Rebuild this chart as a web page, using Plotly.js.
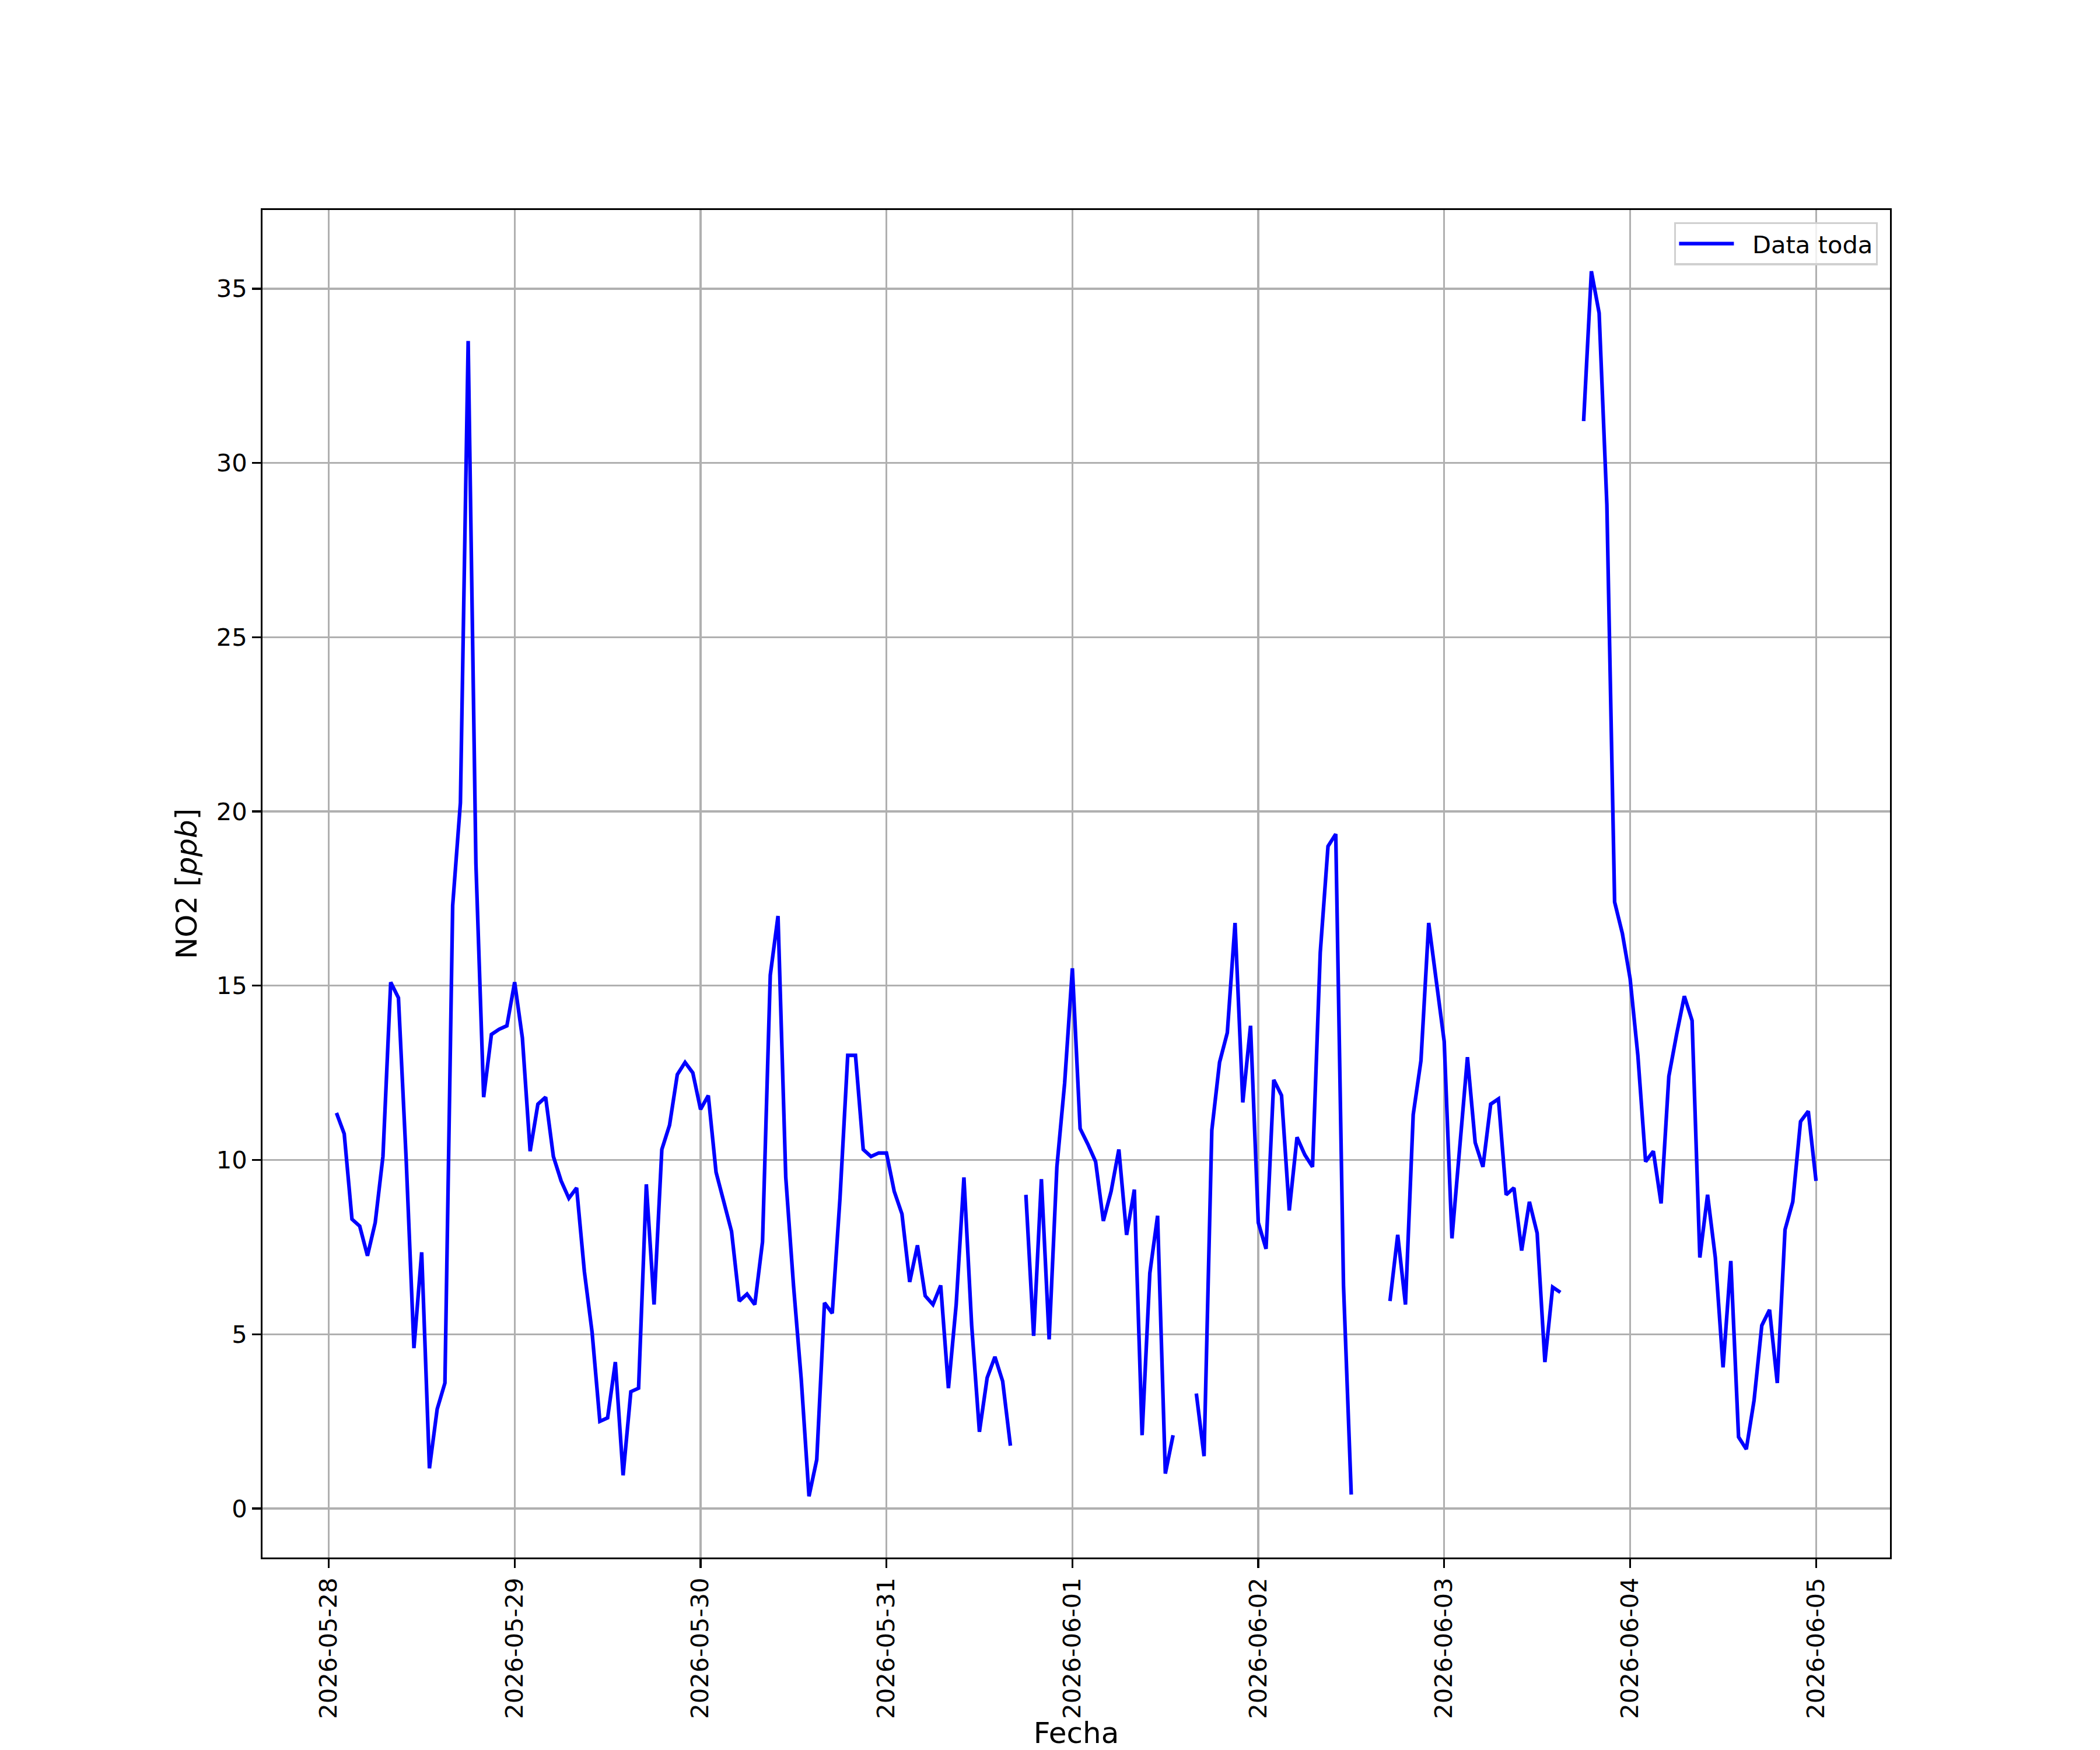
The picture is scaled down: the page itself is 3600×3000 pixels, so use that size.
<!DOCTYPE html>
<html>
<head>
<meta charset="utf-8">
<script src="https://cdn.plot.ly/plotly-3.0.1.min.js"></script>
<style>
  html, body { margin: 0; padding: 0; background: #ffffff; }
  #chart { width: 3600px; height: 3000px; }
</style>
</head>
<body>
<div id="chart"></div>
<script>
// Hourly NO2 values (ppb), index = hour of day 00..23; null = missing
const dayDates = ["2026-05-28","2026-05-29","2026-05-30","2026-05-31","2026-06-01","2026-06-02","2026-06-03","2026-06-04","2026-06-05"];
const day0528 = [null, 11.35, 10.75, 8.3, 8.1, 7.25, 8.2, 10.1, 15.1, 14.65, 10.0, 4.6, 7.35, 1.15, 2.85, 3.6, 17.3, 20.25, 33.5, 18.5, 11.8, 13.6, 13.75, 13.85];
const day0529 = [15.1, 13.5, 10.25, 11.6, 11.8, 10.1, 9.4, 8.9, 9.2, 6.8, 5.05, 2.5, 2.6, 4.2, 0.95, 3.35, 3.45, 9.3, 5.85, 10.3, 11.0, 12.45, 12.8, 12.5];
const day0530 = [11.45, 11.85, 9.65, 8.8, 7.95, 5.95, 6.15, 5.85, 7.65, 15.3, 17.0, 9.5, 6.4, 3.7, 0.35, 1.4, 5.9, 5.6, 8.9, 13.0, 13.0, 10.3, 10.1, 10.2];
const day0531 = [10.2, 9.1, 8.45, 6.5, 7.55, 6.1, 5.85, 6.4, 3.45, 5.85, 9.5, 5.25, 2.2, 3.75, 4.35, 3.65, 1.8, null, 9.0, 4.95, 9.45, 4.85, 9.8, 12.2];
const day0601 = [15.5, 10.9, 10.45, 9.95, 8.25, 9.1, 10.3, 7.85, 9.15, 2.1, 6.75, 8.4, 1.0, 2.1, null, null, 3.3, 1.5, 10.85, 12.8, 13.65, 16.8, 11.65, 13.85];
const day0602 = [8.2, 7.45, 12.3, 11.85, 8.55, 10.65, 10.15, 9.8, 15.95, 19.0, 19.35, 6.4, 0.4, null, null, null, null, 5.95, 7.85, 5.85, 11.3, 12.85, 16.8, 15.1];
const day0603 = [13.4, 7.75, 10.45, 12.95, 10.5, 9.8, 11.6, 11.75, 9.0, 9.2, 7.4, 8.8, 7.9, 4.2, 6.35, 6.2, null, null, 31.2, 35.5, 34.3, 28.8, 17.4, 16.5];
const day0604 = [15.2, 13.0, 9.95, 10.25, 8.75, 12.4, 13.6, 14.7, 14.0, 7.2, 9.0, 7.2, 4.05, 7.1, 2.05, 1.7, 3.1, 5.25, 5.7, 3.6, 8.0, 8.8, 11.1, 11.4];
const day0605 = [9.4];
const dayValues = [day0528, day0529, day0530, day0531, day0601, day0602, day0603, day0604, day0605];

const seriesName = "Data toda";
const xTitle = "Fecha";
const yTitle = "NO2 [<i>ppb</i>]";
const yTickVals = [0, 5, 10, 15, 20, 25, 30, 35];

// build x / y from the day arrays
const pad2 = n => String(n).padStart(2, "0");
const xs = [], ys = [];
dayDates.forEach((d, di) => {
  dayValues[di].forEach((v, h) => {
    xs.push(d + " " + pad2(h) + ":00:00");
    ys.push(v);
  });
});

// matplotlib-like 5% autoscale margins
const toMs = s => {
  const [dp, tp] = s.split(" ");
  const [Y, M, D] = dp.split("-").map(Number);
  const [hh, mm, ss] = tp.split(":").map(Number);
  return Date.UTC(Y, M - 1, D, hh, mm, ss);
};
const fromMs = ms => new Date(ms).toISOString().replace("T", " ").replace("Z", "");
const validIdx = ys.map((v, i) => v === null ? -1 : i).filter(i => i >= 0);
const tMin = toMs(xs[validIdx[0]]), tMax = toMs(xs[validIdx[validIdx.length - 1]]);
const tPad = (tMax - tMin) * 0.05;
const yVals = validIdx.map(i => ys[i]);
const yMin = Math.min(...yVals), yMax = Math.max(...yVals);
const yPad = (yMax - yMin) * 0.05;

const pt = 300 / 72; // points -> px at 300 dpi
const font = { family: "DejaVu Sans", size: 10 * pt, color: "#000000" };
const labelFont = { family: "DejaVu Sans", size: 12 * pt, color: "#000000" };

const trace = {
  x: xs, y: ys, type: "scatter", mode: "lines",
  name: "\u00a0\u00a0" + seriesName,
  connectgaps: false,
  line: { color: "#0000ff", width: 1.5 * pt },
  showlegend: true
};

const axisCommon = {
  showgrid: true, gridcolor: "#b0b0b0", gridwidth: 0.8 * pt,
  showline: true, mirror: true, linecolor: "#000000", linewidth: 0.8 * pt,
  ticks: "outside", ticklen: 3.5 * pt, tickwidth: 0.8 * pt, tickcolor: "#000000",
  zeroline: false, tickfont: font
};

const layout = {
  width: 3600, height: 3000,
  paper_bgcolor: "#ffffff", plot_bgcolor: "#ffffff",
  font: font,
  margin: { l: 450, r: 360, t: 360, b: 330, pad: 0 },
  showlegend: true,
  xaxis: Object.assign({}, axisCommon, {
    type: "date",
    range: [fromMs(tMin - tPad), fromMs(tMax + tPad)],
    tick0: dayDates[0], dtick: 86400000, tickformat: "%Y-%m-%d",
    tickangle: -90,
    title: { text: xTitle, font: labelFont, standoff: 13 }
  }),
  yaxis: Object.assign({}, axisCommon, {
    range: [yMin - yPad, yMax + yPad],
    tickmode: "array", tickvals: yTickVals, ticktext: yTickVals.map(String),
    title: { text: yTitle, font: labelFont, standoff: 18 }
  }),
  legend: {
    x: 0.9925, xanchor: "right", y: 0.991, yanchor: "top",
    bgcolor: "rgba(255,255,255,0.8)", bordercolor: "#d0d0d0", borderwidth: 0.8 * pt,
    font: font, itemwidth: 94
  }
};

Plotly.newPlot("chart", [trace], layout, { staticPlot: true, displayModeBar: false });
</script>
</body>
</html>
